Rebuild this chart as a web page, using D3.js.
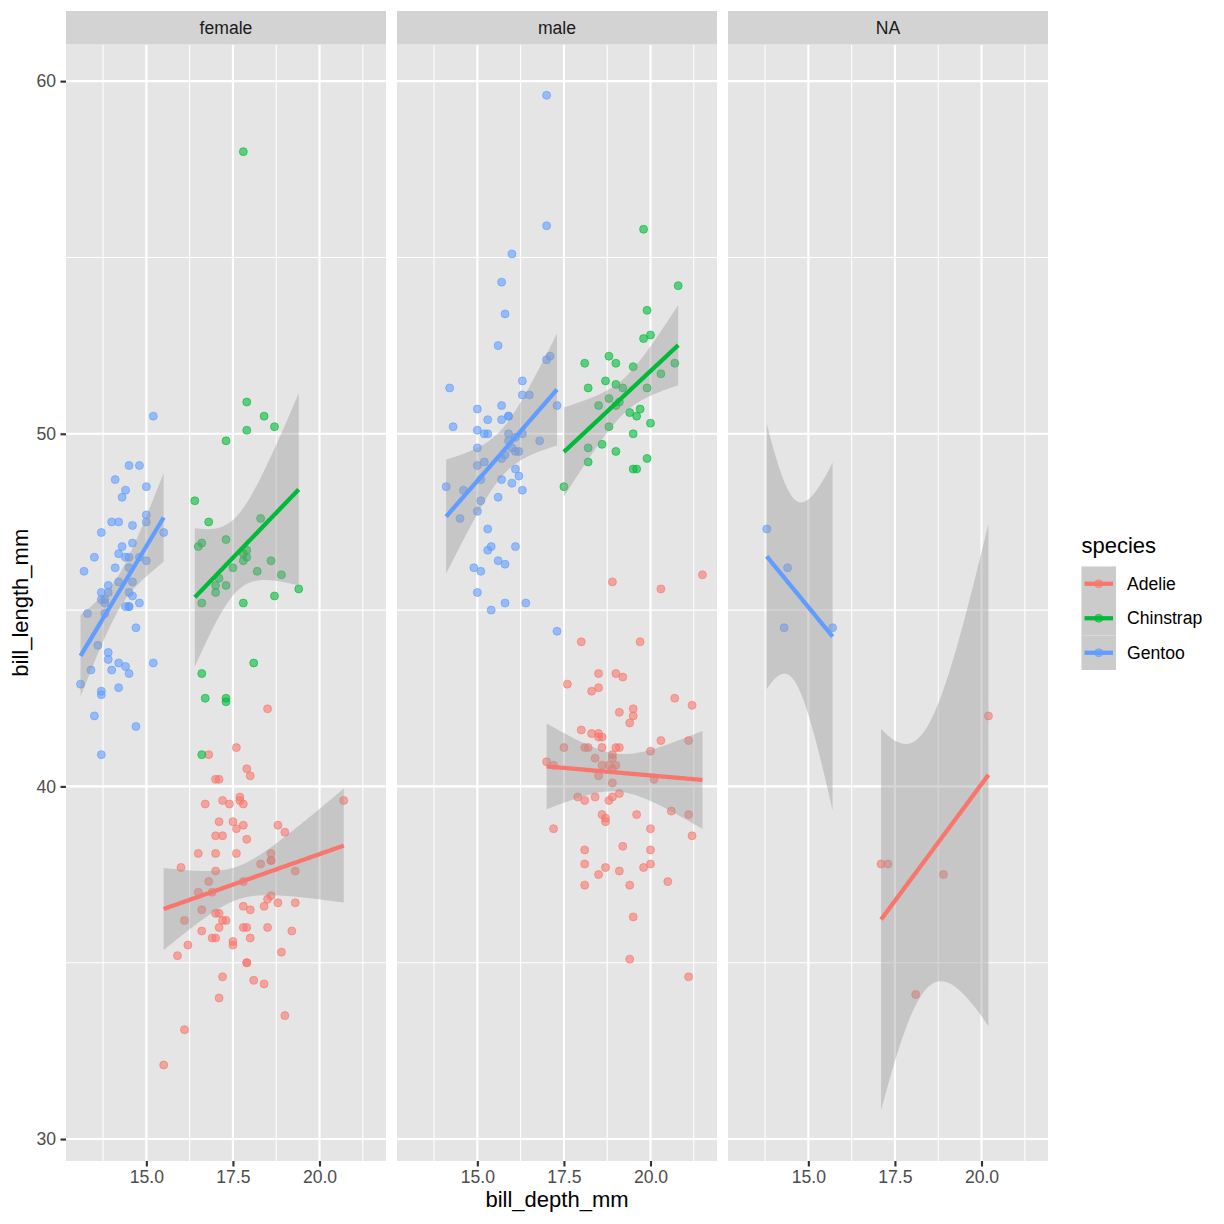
<!DOCTYPE html>
<html><head><meta charset="utf-8">
<script src="https://cdn.jsdelivr.net/npm/d3@7"></script>
<style>body{margin:0;background:#fff}</style>
</head><body>
<svg id="chart" width="1224" height="1224"></svg>
<script>
// ---------------- data ----------------
const sexes = ["female", "male", "NA"];
const species = ["Adelie", "Chinstrap", "Gentoo"];
const speciesColors = ["#F8766D", "#00BA38", "#619CFF"];
const xTicks = [15, 17.5, 20];
const yTicks = [30, 40, 50, 60];

const adelieFemaleDepth = [17.4,18.0,19.3,17.8,17.6,17.8,19.0,18.4,18.3,19.2,18.9,17.9,18.6,16.7,17.8,17.0,18.5,19.3,18.0,18.5,16.9,17.9,17.7,17.9,18.1,17.5,16.6,16.9,17.0,17.1,16.2,16.6,19.0,17.2,17.5,16.8,16.1,17.2,18.8,17.8,18.6,18.8,18.0,17.1,17.3,18.6,16.1,17.9,16.0,18.6,17.2,17.0,16.5,17.7,20.7,17.0,17.0,17.2,17.0,15.9,17.6,17.1,17.9,18.5,17.6,17.5,16.5,17.1,15.5,16.8,18.4,17.8,17.1];
const adelieFemaleLength = [39.5,40.3,36.7,38.9,41.1,36.6,38.7,34.4,37.8,35.9,35.3,40.5,37.9,39.5,39.5,36.4,42.2,37.6,36.5,36.0,37.0,36.0,39.6,35.0,34.5,39.0,36.5,35.7,37.6,36.4,35.5,35.9,33.5,39.6,35.5,40.9,36.2,34.6,36.7,37.3,36.9,38.9,35.7,34.0,36.2,38.1,33.1,35.0,37.7,37.9,38.6,38.1,38.1,39.7,39.6,38.6,35.7,36.2,40.2,35.2,38.8,39.0,38.5,36.8,38.1,35.6,37.0,40.2,32.1,37.3,36.6,36.0,36.0];

const adelieMaleDepth = [18.7,20.6,19.6,21.2,21.1,20.7,21.5,18.7,18.1,17.2,18.6,18.9,18.1,18.9,21.1,20.0,19.1,18.4,19.7,18.8,19.0,21.2,18.9,19.5,18.6,18.8,19.1,21.1,18.2,18.0,19.1,19.4,18.4,18.9,18.5,19.4,19.1,17.6,19.4,20.3,19.5,19.2,18.1,18.1,18.9,18.5,18.5,20.0,20.0,18.9,20.0,19.0,20.3,19.5,18.3,20.5,18.6,19.8,18.5,19.0,18.3,18.0,19.2,18.5,17.5,20.1,17.9,17.2,17.0,18.7,18.6,18.1,18.5];
const adelieMaleLength = [39.1,39.3,39.2,38.6,34.6,42.5,46.0,37.7,38.2,38.8,40.6,40.5,37.2,40.9,39.2,38.8,39.8,40.8,44.1,39.6,41.1,42.3,40.1,42.0,41.4,40.6,37.6,41.3,41.1,41.6,41.1,41.8,39.7,45.8,42.8,37.2,42.1,42.9,35.1,41.3,36.3,38.3,41.1,39.6,40.8,40.3,43.2,41.0,37.8,39.7,38.2,43.2,45.6,42.2,42.7,37.3,41.1,37.7,41.4,40.6,41.5,44.1,43.1,37.5,41.1,40.2,39.7,40.6,40.7,39.0,39.2,37.8,41.5];

const adelieNADepth = [18.1,20.2,17.1,17.3,18.9];
const adelieNALength = [34.1,42.0,37.8,37.8,37.5];

const chinstrapFemaleDepth = [17.9,18.7,17.8,18.2,18.9,17.8,17.3,17.1,17.8,18.6,17.3,16.6,17.9,18.4,17.8,16.6,16.7,16.8,18.3,16.6,17.5,17.0,17.9,17.9,17.3,16.4,17.3,17.3,16.6,19.4,16.5,17.0,18.1,18.7];
const chinstrapFemaleLength = [46.5,45.4,45.2,46.1,46.0,46.6,47.0,45.9,58.0,46.4,42.4,43.2,46.7,50.5,46.4,40.9,42.5,47.5,47.6,46.9,46.2,45.5,50.9,50.1,49.8,48.1,45.7,42.5,45.2,45.6,46.8,45.7,43.5,50.2];

const chinstrapMaleDepth = [19.5,19.2,19.8,18.2,19.9,20.3,18.1,19.6,20.0,18.2,17.5,19.4,19.0,19.0,20.0,20.8,18.8,18.6,20.7,19.9,19.5,19.1,18.5,19.6,18.7,19.0,19.7,18.8,19.9,18.8,19.5,19.8,18.2,19.0];
const chinstrapMaleLength = [50.0,51.3,52.7,51.3,51.3,51.7,52.0,50.5,50.3,49.2,48.5,50.6,52.0,49.5,52.8,54.2,51.0,49.7,52.0,53.5,49.0,50.9,50.8,49.0,51.5,51.4,50.7,52.2,49.3,50.2,51.9,55.8,49.6,50.8];

const gentooFemaleDepth = [13.2,14.1,13.5,14.6,13.4,13.7,13.7,14.6,13.5,14.5,14.5,14.5,13.1,14.3,14.2,14.5,14.8,13.7,13.6,13.7,13.7,13.9,13.9,13.3,14.2,14.4,14.4,13.9,14.5,13.8,13.9,14.2,14.2,15.0,14.8,15.0,14.2,13.8,14.5,14.6,13.8,14.4,14.0,15.0,14.5,14.7,14.6,14.4,15.0,15.5,14.7,14.0,15.2,15.2,14.1,13.7,14.3,14.8];
const gentooFemaleLength = [46.1,48.7,46.5,45.4,43.3,40.9,45.5,45.8,42.0,46.2,45.1,46.5,42.9,48.2,42.8,45.1,49.1,42.6,44.0,42.7,45.3,43.6,45.5,44.9,46.6,45.1,46.5,43.8,43.2,45.3,45.7,45.8,43.5,47.7,46.5,46.4,47.5,45.2,49.1,47.4,44.9,43.4,47.5,47.5,45.5,44.5,46.9,48.4,48.5,47.2,41.7,43.3,50.5,43.5,46.2,47.2,46.8,45.2];

const gentooMaleDepth = [16.3,15.2,14.5,15.3,15.4,16.1,14.6,15.7,15.2,15.1,14.3,15.8,15.1,15.0,15.3,15.3,17.0,16.3,17.3,15.7,16.0,15.0,15.9,15.9,15.8,14.1,15.0,15.4,15.0,15.3,14.9,15.7,16.8,16.2,15.0,15.6,15.6,16.0,16.3,16.4,15.6,15.9,17.3,14.2,17.0,17.1,16.1,15.7,15.8,16.5,17.0,15.0,16.1,15.8,15.1,15.9,16.3,16.0,16.2,15.7,16.1];
const gentooMaleLength = [50.0,50.0,47.6,46.7,46.8,49.0,48.4,49.3,49.2,48.7,50.2,46.3,46.1,47.8,50.0,47.3,59.6,48.4,44.4,48.7,49.6,49.6,50.5,50.5,45.2,48.5,50.1,45.0,45.5,50.4,46.2,54.3,49.8,49.5,50.7,46.4,48.2,48.6,51.1,45.2,52.5,50.0,50.8,51.3,52.1,52.2,49.5,50.8,49.4,51.1,55.9,49.1,46.8,53.4,48.1,49.8,51.5,55.1,48.8,50.4,49.9];

const gentooNADepth = [14.3,14.4,13.8,15.7];
const gentooNALength = [44.5,46.2,47.3,44.5];

// groups (built from the arrays above)
const groups = [
  {sp: 0, sex: 0, x: adelieFemaleDepth, y: adelieFemaleLength},
  {sp: 0, sex: 1, x: adelieMaleDepth, y: adelieMaleLength},
  {sp: 0, sex: 2, x: adelieNADepth, y: adelieNALength},
  {sp: 2, sex: 0, x: gentooFemaleDepth, y: gentooFemaleLength},
  {sp: 2, sex: 1, x: gentooMaleDepth, y: gentooMaleLength},
  {sp: 2, sex: 2, x: gentooNADepth, y: gentooNALength},
  {sp: 1, sex: 0, x: chinstrapFemaleDepth, y: chinstrapFemaleLength},
  {sp: 1, sex: 1, x: chinstrapMaleDepth, y: chinstrapMaleLength}
];

// ---------------- stats (lm + 95% CI, like geom_smooth) ----------------
const LG = [0.99999999999980993, 676.5203681218851, -1259.1392167224028, 771.32342877765313,
  -176.61502916214059, 12.507343278686905, -0.13857109526572012, 9.9843695780195716e-6, 1.5056327351493116e-7];
function lgamma(x) {
  if (x < 0.5) return Math.log(Math.PI / Math.sin(Math.PI * x)) - lgamma(1 - x);
  x -= 1; let a = LG[0]; const t = x + 7.5;
  for (let i = 1; i < 9; i++) a += LG[i] / (x + i);
  return 0.5 * Math.log(2 * Math.PI) + (x + 0.5) * Math.log(t) - t + Math.log(a);
}
function betacf(a, b, x) {
  const FP = 1e-300; const qab = a + b, qap = a + 1, qam = a - 1;
  let c = 1, d = 1 - qab * x / qap; if (Math.abs(d) < FP) d = FP; d = 1 / d; let h = d;
  for (let m = 1; m <= 300; m++) {
    const m2 = 2 * m;
    let aa = m * (b - m) * x / ((qam + m2) * (a + m2));
    d = 1 + aa * d; if (Math.abs(d) < FP) d = FP; c = 1 + aa / c; if (Math.abs(c) < FP) c = FP; d = 1 / d; h *= d * c;
    aa = -(a + m) * (qab + m) * x / ((a + m2) * (qap + m2));
    d = 1 + aa * d; if (Math.abs(d) < FP) d = FP; c = 1 + aa / c; if (Math.abs(c) < FP) c = FP; d = 1 / d;
    const del = d * c; h *= del; if (Math.abs(del - 1) < 1e-14) break;
  }
  return h;
}
function ibeta(x, a, b) {
  if (x <= 0) return 0; if (x >= 1) return 1;
  const bt = Math.exp(lgamma(a + b) - lgamma(a) - lgamma(b) + a * Math.log(x) + b * Math.log(1 - x));
  if (x < (a + 1) / (a + b + 2)) return bt * betacf(a, b, x) / a;
  return 1 - bt * betacf(b, a, 1 - x) / b;
}
function tUpper(t, df) { return 0.5 * ibeta(df / (df + t * t), df / 2, 0.5); }
function qt975(df) {
  let lo = 0, hi = 1000;
  for (let i = 0; i < 200; i++) { const mid = (lo + hi) / 2; if (tUpper(mid, df) > 0.025) lo = mid; else hi = mid; }
  return (lo + hi) / 2;
}
function fit(xs, ys) {
  const n = xs.length, mx = d3.mean(xs), my = d3.mean(ys);
  let sxx = 0, sxy = 0;
  for (let i = 0; i < n; i++) { sxx += (xs[i] - mx) ** 2; sxy += (xs[i] - mx) * (ys[i] - my); }
  const b = sxy / sxx, a = my - b * mx;
  let sse = 0; for (let i = 0; i < n; i++) sse += (ys[i] - a - b * xs[i]) ** 2;
  const s = Math.sqrt(sse / (n - 2)), t = qt975(n - 2);
  const [x0, x1] = d3.extent(xs);
  return d3.range(80).map(i => {
    const x = x0 + i * (x1 - x0) / 79, yh = a + b * x;
    const se = s * Math.sqrt(1 / n + (x - mx) ** 2 / sxx);
    return {x, y: yh, lo: yh - t * se, hi: yh + t * se};
  });
}
groups.forEach(g => { g.fit = fit(g.x, g.y); });

// ---------------- layout ----------------
const svg = d3.select("#chart");
const FONT = "'Liberation Sans', Arial, Helvetica, sans-serif";
const panelW = 320, panelGap = 11, panelLeft = 66, panelTop = 44.5, panelBottom = 1161, stripTop = 11;
const majorW = 2.13, minorW = 1.07;
const panelFill = "#E5E5E5", stripFill = "#D3D3D3";

const allX = groups.flatMap(g => g.x);
const allY = groups.flatMap(g => g.y.concat(g.fit.map(d => d.lo), g.fit.map(d => d.hi)));
const [xmin, xmax] = d3.extent(allX), [ymin, ymax] = d3.extent(allY);
const xd = [xmin - 0.05 * (xmax - xmin), xmax + 0.05 * (xmax - xmin)];
const yd = [ymin - 0.05 * (ymax - ymin), ymax + 0.05 * (ymax - ymin)];
const y = d3.scaleLinear().domain(yd).range([panelBottom, panelTop]);

svg.append("rect").attr("width", 1224).attr("height", 1224).attr("fill", "#fff");

const xMinor = [12.5, 13.75, 16.25, 18.75, 21.25].filter(v => v >= xd[0] && v <= xd[1]);
const yMinor = [25, 35, 45, 55, 65].filter(v => v >= yd[0] && v <= yd[1]);

function drawPoint(sel, color) {
  sel.attr("r", 4.0).attr("fill", color).attr("fill-opacity", 0.6)
    .attr("stroke", color).attr("stroke-opacity", 0.6).attr("stroke-width", 1);
}

sexes.forEach((sx, pi) => {
  const x0 = panelLeft + pi * (panelW + panelGap);
  const x = d3.scaleLinear().domain(xd).range([x0, x0 + panelW]);
  const g = svg.append("g");
  g.append("rect").attr("x", x0).attr("y", panelTop).attr("width", panelW)
    .attr("height", panelBottom - panelTop).attr("fill", panelFill);
  // grid
  g.selectAll(null).data(xMinor).join("line").attr("x1", d => x(d)).attr("x2", d => x(d))
    .attr("y1", panelTop).attr("y2", panelBottom).attr("stroke", "#fff").attr("stroke-width", minorW);
  g.selectAll(null).data(yMinor).join("line").attr("y1", d => y(d)).attr("y2", d => y(d))
    .attr("x1", x0).attr("x2", x0 + panelW).attr("stroke", "#fff").attr("stroke-width", minorW);
  g.selectAll(null).data(xTicks).join("line").attr("x1", d => x(d)).attr("x2", d => x(d))
    .attr("y1", panelTop).attr("y2", panelBottom).attr("stroke", "#fff").attr("stroke-width", majorW);
  g.selectAll(null).data(yTicks).join("line").attr("y1", d => y(d)).attr("y2", d => y(d))
    .attr("x1", x0).attr("x2", x0 + panelW).attr("stroke", "#fff").attr("stroke-width", majorW);

  const pg = groups.filter(q => q.sex === pi);
  // points
  pg.forEach(q => {
    g.selectAll(null).data(q.x.map((v, i) => [v, q.y[i]])).join("circle")
      .attr("cx", d => x(d[0])).attr("cy", d => y(d[1])).call(drawPoint, speciesColors[q.sp]);
  });
  // smooths, in group order
  pg.slice().sort((a, b) => a.sp - b.sp).forEach(q => {
    g.append("path").datum(q.fit)
      .attr("d", d3.area().x(d => x(d.x)).y0(d => y(d.lo)).y1(d => y(d.hi)))
      .attr("fill", "#999999").attr("fill-opacity", 0.4);
    g.append("path").datum(q.fit)
      .attr("d", d3.line().x(d => x(d.x)).y(d => y(d.y)))
      .attr("fill", "none").attr("stroke", speciesColors[q.sp]).attr("stroke-width", 4.27);
  });
  // strip
  g.append("rect").attr("x", x0).attr("y", stripTop).attr("width", panelW)
    .attr("height", panelTop - stripTop).attr("fill", stripFill);
  g.append("text").attr("x", x0 + panelW / 2).attr("y", (stripTop + panelTop) / 2).attr("dy", "0.35em")
    .attr("text-anchor", "middle").attr("font-family", FONT).attr("font-size", 17.6)
    .attr("fill", "#1A1A1A").text(sx);
  // x axis
  const ax = g.append("g").attr("transform", `translate(0,${panelBottom})`)
    .call(d3.axisBottom(x).tickValues(xTicks).tickFormat(d3.format(".1f")).tickSize(5.5).tickPadding(4.4));
  ax.select(".domain").remove();
  ax.selectAll(".tick line").attr("stroke", "#333333").attr("stroke-width", majorW);
  ax.selectAll(".tick text").attr("fill", "#4D4D4D").attr("font-family", FONT).attr("font-size", 17.6);
  if (pi === 0) {
    const ay = g.append("g").attr("transform", `translate(${x0},0)`)
      .call(d3.axisLeft(y).tickValues(yTicks).tickFormat(d3.format("d")).tickSize(5.5).tickPadding(4.4));
    ay.select(".domain").remove();
    ay.selectAll(".tick line").attr("stroke", "#333333").attr("stroke-width", majorW);
    ay.selectAll(".tick text").attr("fill", "#4D4D4D").attr("font-family", FONT).attr("font-size", 17.6);
  }
});

// axis titles
svg.append("text").attr("x", (panelLeft + panelLeft + 3 * panelW + 2 * panelGap) / 2).attr("y", 1207)
  .attr("text-anchor", "middle").attr("font-family", FONT).attr("font-size", 22).attr("fill", "#000")
  .text("bill_depth_mm");
svg.append("text").attr("transform", `translate(27.5,${(panelTop + panelBottom) / 2}) rotate(-90)`)
  .attr("text-anchor", "middle").attr("font-family", FONT).attr("font-size", 22).attr("fill", "#000")
  .text("bill_length_mm");

// legend
const lx = 1081.5, ly = 566.5, key = 34.5;
const leg = svg.append("g");
leg.append("text").attr("x", lx).attr("y", 553).attr("font-family", FONT).attr("font-size", 22)
  .attr("fill", "#000").text("species");
species.forEach((s, i) => {
  const ky = ly + i * key;
  leg.append("rect").attr("x", lx).attr("y", ky).attr("width", key).attr("height", key).attr("fill", "#EDEDED");
  leg.append("rect").attr("x", lx).attr("y", ky).attr("width", key).attr("height", key)
    .attr("fill", "#999999").attr("fill-opacity", 0.4);
  leg.append("circle").attr("cx", lx + key / 2).attr("cy", ky + key / 2).call(drawPoint, speciesColors[i]);
  leg.append("line").attr("x1", lx + 3).attr("x2", lx + key - 3).attr("y1", ky + key / 2).attr("y2", ky + key / 2)
    .attr("stroke", speciesColors[i]).attr("stroke-width", 4.27);
  leg.append("text").attr("x", lx + key + 11).attr("y", ky + key / 2).attr("dy", "0.35em")
    .attr("font-family", FONT).attr("font-size", 17.6).attr("fill", "#000").text(s);
});
</script>
</body></html>
